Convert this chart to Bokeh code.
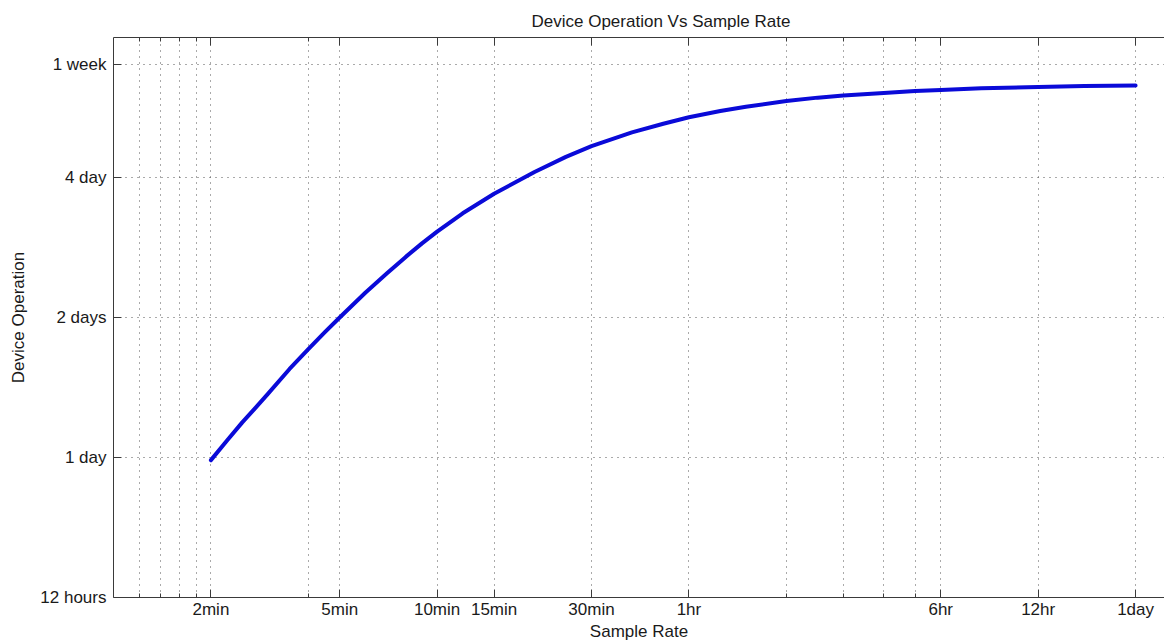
from bokeh.plotting import figure
from bokeh.models import FixedTicker, LogAxis, Range1d, CustomJSTickFormatter
from bokeh.embed import file_html
from bokeh.resources import INLINE

# Data (sample rate in minutes, device operation in days)
sample_rate_min = [2, 2.25, 2.5, 2.75, 3, 3.5, 4, 4.5, 5, 6, 7, 8, 9, 10, 12, 15,
                   20, 25, 30, 40, 50, 60, 75, 90, 120, 150, 180, 240, 300, 360,
                   480, 720, 1000, 1440]
operation_days = [0.987, 1.09, 1.19, 1.28, 1.37, 1.55, 1.71, 1.86, 2.00, 2.26,
                  2.49, 2.70, 2.89, 3.06, 3.35, 3.69, 4.11, 4.43, 4.67, 5.00,
                  5.22, 5.39, 5.56, 5.68, 5.84, 5.94, 6.00, 6.08, 6.14, 6.17,
                  6.22, 6.26, 6.29, 6.31]

x_major_ticks = [2, 5, 10, 15, 30, 60, 360, 720, 1440]
x_major_labels = ["2min", "5min", "10min", "15min", "30min", "1hr", "6hr", "12hr", "1day"]
x_minor_ticks = [1.2, 1.4, 1.6, 1.8, 4, 120, 180, 240, 300]

y_ticks = [0.5, 1, 2, 4, 7]
y_labels = ["12 hours", "1 day", "2 days", "4 day", "1 week"]

FONT = "Liberation Sans"
FS = "17px"
AXIS_COLOR = "#3a3a3a"
GRID_COLOR = "#555555"
TEXT_COLOR = "#1a1a1a"

p = figure(width=1164, height=643, x_axis_type="log", y_axis_type="log",
           x_range=Range1d(1, 1769), y_range=Range1d(0.5, 8),
           output_backend="svg", toolbar_location=None,
           min_border_left=113, min_border_right=0, min_border_top=37,
           min_border_bottom=46,
           title="Device Operation Vs Sample Rate")

p.outline_line_color = None
p.background_fill_color = "white"
p.border_fill_color = "white"

p.title.text_font = FONT
p.title.text_font_size = FS
p.title.text_font_style = "normal"
p.title.text_color = TEXT_COLOR
p.title.align = "left"
p.title.offset = 418
p.title.standoff = 13

xticker = FixedTicker(ticks=x_major_ticks, minor_ticks=x_minor_ticks)
yticker = FixedTicker(ticks=y_ticks, minor_ticks=[])

xa = p.xaxis[0]
xa.ticker = xticker
xa.major_label_overrides = {t: l for t, l in zip(x_major_ticks, x_major_labels)}
xa.axis_label = "Sample Rate"
ya = p.yaxis[0]
ya.ticker = yticker
ya.major_label_overrides = {t: l for t, l in zip(y_ticks, y_labels)}
ya.axis_label = "Device Operation"

for ax in (xa, ya):
    ax.axis_line_color = AXIS_COLOR
    ax.major_tick_line_color = AXIS_COLOR
    ax.minor_tick_line_color = AXIS_COLOR
    ax.major_tick_out = 0
    ax.minor_tick_out = 0
    ax.major_tick_in = 8
    ax.minor_tick_in = 4
    ax.major_label_text_font = FONT
    ax.major_label_text_font_size = FS
    ax.major_label_text_color = TEXT_COLOR
    ax.axis_label_text_font = FONT
    ax.axis_label_text_font_size = FS
    ax.axis_label_text_font_style = "normal"
    ax.axis_label_text_color = TEXT_COLOR

xa.major_label_standoff = 2
xa.axis_label_standoff = 0
ya.major_label_standoff = 7
ya.axis_label_standoff = 9

top = LogAxis(ticker=xticker, formatter=CustomJSTickFormatter(code="return ''"),
              axis_line_color=AXIS_COLOR, major_tick_line_color=AXIS_COLOR,
              minor_tick_line_color=AXIS_COLOR, major_tick_in=8, major_tick_out=0,
              minor_tick_in=4, minor_tick_out=0, major_label_standoff=0,
              major_label_text_font_size="10px")
p.add_layout(top, "above")

p.xgrid.ticker = xticker
p.ygrid.ticker = yticker
for g in (p.xgrid, p.ygrid):
    g.grid_line_color = GRID_COLOR
    g.grid_line_dash = "1 5"
    g.grid_line_width = 1
p.xgrid.minor_grid_line_color = GRID_COLOR
p.xgrid.minor_grid_line_dash = "1 5"

p.line(sample_rate_min, operation_days, line_color="#0a0ad8", line_width=4,
       line_join="round", line_cap="round")

open("out.html", "w").write(file_html(p, INLINE))
